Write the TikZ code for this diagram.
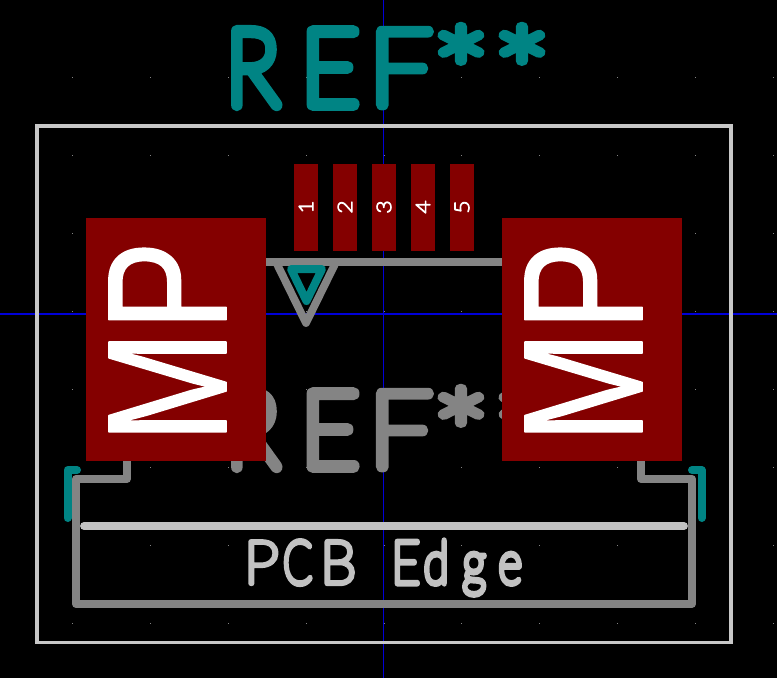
\documentclass[tikz,border=0pt]{standalone}
\usepackage{fontspec}
\usepackage{graphicx}
\setmainfont{Lato}
\newfontfamily\strokefont{Lato Hairline}
\newfontfamily\padfont{Liberation Sans}
\definecolor{padred}{HTML}{840000}
\definecolor{teal}{HTML}{008484}
\definecolor{fabgray}{HTML}{848484}
\definecolor{edgegray}{HTML}{C2C2C2}
\definecolor{boxgray}{HTML}{C8C8C8}
\definecolor{axisblue}{rgb}{0,0,0.85}
\definecolor{griddot}{HTML}{848484}
\tikzset{
  x=1bp,y=-1bp,
  axisline/.style={fill=axisblue,draw=none},
  fabline/.style={draw=fabgray,line width=7.8bp,line cap=round,line join=round},
  tealline/.style={draw=teal,line width=8bp,line cap=round,line join=round},
  edgeline/.style={draw=edgegray,line width=7.8bp,line cap=round},
  outerbox/.style={draw=boxgray,line width=3.6bp},
  padrect/.style={fill=padred,draw=none,inner sep=0pt,outer sep=0pt,anchor=north west},
  lbl/.style={inner sep=0pt,outer sep=0pt,anchor=base west},
}
\newcommand{\fit}[3]{\resizebox{#1bp}{#2bp}{#3}}
\newcommand{\pen}[1]{\special{pdf:code 1 J 1 j #1 w 2 Tr}}
\newcommand{\unpen}{\special{pdf:code 0 Tr}}
% \glyphat{x}{xscale}{yscale}{pen}{text}: a glyph drawn with a round pen, at x from the node's origin
\newcommand{\glyphat}[5]{\rlap{\hspace*{#1bp}\scalebox{#2}[#3]{\pen{#4}#5\unpen}}}
\newcommand{\reftext}{{\strokefont
  \glyphat{225.3}{9.1}{10.6}{1.15}{R}%
  \glyphat{300}{10.2}{10.6}{1.1}{E}%
  \glyphat{368}{11.4}{10.6}{1.0}{F}%
  \rlap{\hspace*{430bp}\raisebox{-13.6bp}{\fit{122}{92}{\pen{0.75}**\unpen}}}}}
\begin{document}
\begin{tikzpicture}[line join=round,line cap=round]
\useasboundingbox[fill=black] (0,0) rectangle (777,678);
% axes
\path[axisline] (0,313) rectangle (777,315);
\path[axisline] (383,0) rectangle (384.4,678);
% grid dots
\foreach \gx in {72,150,228,306,384,461,539,617,695,773}
  \foreach \gy in {77,155,233,311,389,467,545,623}
    \fill[griddot] (\gx,\gy) rectangle ++(1,1);
% grey reference
\node[lbl,text=fabgray] (refgray) at (0,467) {\reftext};
% fab outline
\draw[fabline] (266,262) -- (502,262);
\draw[fabline] (277,264) -- (306,323) -- (335,264);
\draw[fabline] (127,461) -- (127,479) -- (76,479) -- (76,604) -- (692,604) -- (692,479) -- (641,479) -- (641,461);
% courtyard and edge
\draw[outerbox,line cap=butt,line join=miter] (37,126) rectangle (731,642.5);
\draw[edgeline] (84,526) -- (684,526);
\node[lbl,text=edgegray] (edge) at (0,583.5) {{\strokefont
  \glyphat{243.2}{6.3}{6.0}{0.85}{P}%
  \glyphat{282.5}{4.3}{6.0}{1.05}{C}%
  \glyphat{319.9}{5.8}{6.0}{0.9}{B}%
  \glyphat{390.8}{5.0}{6.0}{1.0}{E}%
  \glyphat{423.2}{4.6}{6.0}{1.05}{d}%
  \glyphat{461.9}{4.7}{6.0}{1.05}{g}%
  \glyphat{497.9}{4.6}{6.0}{1.05}{e}}};
% silk
\node[lbl,text=teal] (reftop) at (0,105) {\reftext};
\draw[tealline] (291,269) -- (322,269) -- (306.5,301) -- cycle;
\draw[tealline] (77,470) -- (67.5,470) -- (67.5,518);
\draw[tealline] (692,470) -- (701.5,470) -- (701.5,518);
% pads
\foreach \pn/\px in {1/294,2/333,3/372,4/411,5/450}{
  \node[padrect,minimum width=24bp,minimum height=87bp] (pad\pn) at (\px,164) {};
  \node[inner sep=0pt,text=white,rotate=90] (num\pn) at (\px+12,207) {\strokefont\fit{13}{14}{\pen{0.7}\pn\unpen}};
}
\node[padrect,minimum width=180bp,minimum height=243bp] (mpl) at (86,218) {};
\node[padrect,minimum width=180bp,minimum height=243bp] (mpr) at (502,218) {};
\node[inner sep=0pt,text=white,rotate=90] (mptl) at (167.5,342) {\padfont\fit{202}{117}{\pen{0.1}MP\unpen}};
\node[inner sep=0pt,text=white,rotate=90] (mptr) at (583.5,342) {\padfont\fit{202}{117}{\pen{0.1}MP\unpen}};
\end{tikzpicture}
\end{document}
